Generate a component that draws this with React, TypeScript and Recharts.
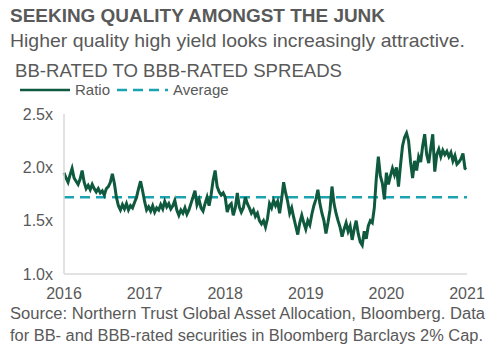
import React from 'react';
import { LineChart, Line, XAxis, YAxis, ReferenceLine } from 'recharts';

const yearStarts = [2016, 2017, 2018, 2019, 2020];
const ratio2016 = [1.95, 1.90, 1.86, 1.93, 1.99, 1.90, 1.87, 1.84, 1.89, 1.97, 1.86, 1.80, 1.83, 1.79, 1.84, 1.80, 1.77, 1.80, 1.76, 1.78, 1.74, 1.80, 1.82, 1.86, 1.94, 1.85, 1.72, 1.64, 1.60, 1.65, 1.61, 1.66, 1.60, 1.64, 1.62, 1.67, 1.72, 1.80, 1.87, 1.78];
const ratio2017 = [1.68, 1.60, 1.63, 1.59, 1.64, 1.58, 1.62, 1.60, 1.65, 1.61, 1.68, 1.63, 1.66, 1.61, 1.64, 1.69, 1.60, 1.55, 1.60, 1.57, 1.62, 1.56, 1.60, 1.66, 1.72, 1.78, 1.65, 1.70, 1.62, 1.59, 1.66, 1.72, 1.64, 1.74, 1.88, 1.97, 1.82, 1.77, 1.74, 1.76];
const ratio2018 = [1.72, 1.58, 1.64, 1.66, 1.55, 1.62, 1.76, 1.63, 1.58, 1.62, 1.72, 1.66, 1.62, 1.57, 1.60, 1.54, 1.57, 1.50, 1.47, 1.50, 1.44, 1.52, 1.66, 1.62, 1.69, 1.64, 1.68, 1.57, 1.70, 1.86, 1.76, 1.68, 1.57, 1.62, 1.53, 1.45, 1.37, 1.48, 1.55, 1.48];
const ratio2019 = [1.42, 1.50, 1.46, 1.56, 1.64, 1.70, 1.79, 1.66, 1.57, 1.50, 1.38, 1.48, 1.60, 1.82, 1.66, 1.57, 1.50, 1.44, 1.35, 1.42, 1.48, 1.40, 1.45, 1.32, 1.42, 1.50, 1.38, 1.30, 1.27, 1.40, 1.33, 1.45, 1.50, 1.48, 1.62, 1.90, 2.10, 1.92, 1.85, 1.70];
const ratio2020 = [1.95, 1.84, 1.92, 1.99, 1.93, 2.00, 1.82, 2.02, 2.20, 2.28, 2.32, 2.25, 2.05, 1.90, 2.06, 1.97, 2.10, 2.05, 2.20, 2.31, 2.12, 2.04, 2.18, 2.31, 1.96, 2.12, 2.17, 2.10, 2.16, 2.12, 2.15, 2.10, 2.14, 2.06, 2.11, 2.03, 2.05, 2.08, 2.13, 1.99];
const lastPoint = { t: 2020.99, ratio: 1.98 };
const averageRatio = 1.72;
const xTicks = [2016, 2017, 2018, 2019, 2020, 2021];
const yTicks = [1.0, 1.5, 2.0, 2.5];

const ratioYears = [ratio2016, ratio2017, ratio2018, ratio2019, ratio2020];
const data: { t: number; ratio: number }[] = [];
ratioYears.forEach((vals, yi) => {
  vals.forEach((v, i) => {
    data.push({ t: yearStarts[yi] + i / vals.length, ratio: v });
  });
});
data.push(lastPoint);

const GREEN = '#0f5a3e';
const TEAL = '#1ba3b3';
const TEXT = '#595959';
const FONT = '"Liberation Sans", Arial, sans-serif';

export default function App() {
  return (
    <div style={{ position: 'absolute', left: 0, top: 0, width: 500, height: 353, background: '#fff', fontFamily: FONT }}>
      <svg width={500} height={353} style={{ position: 'absolute', left: 0, top: 0 }}>
        <text x={10} y={22} fontSize={18.5} fontWeight="bold" fill={TEXT} fontFamily={FONT} textLength={375} lengthAdjust="spacingAndGlyphs">SEEKING QUALITY AMONGST THE JUNK</text>
        <text x={10} y={47} fontSize={19} fill={TEXT} fontFamily={FONT} textLength={455} lengthAdjust="spacingAndGlyphs">Higher quality high yield looks increasingly attractive.</text>
        <text x={15} y={77} fontSize={18} fill={TEXT} fontFamily={FONT} textLength={327} lengthAdjust="spacingAndGlyphs">BB-RATED TO BBB-RATED SPREADS</text>
        <line x1={20} y1={90} x2={70} y2={90} stroke={GREEN} strokeWidth={2.5} />
        <text x={75} y={95} fontSize={15} fill={TEXT} fontFamily={FONT}>Ratio</text>
        <line x1={117} y1={90} x2={168} y2={90} stroke={TEAL} strokeWidth={2.5} strokeDasharray="10 6" />
        <text x={173} y={95} fontSize={15} fill={TEXT} fontFamily={FONT}>Average</text>
        <text x={10} y={319} fontSize={16} fill={TEXT} fontFamily={FONT} textLength={475} lengthAdjust="spacingAndGlyphs">Source: Northern Trust Global Asset Allocation, Bloomberg. Data</text>
        <text x={10} y={341} fontSize={16} fill={TEXT} fontFamily={FONT} textLength={473} lengthAdjust="spacingAndGlyphs">for BB- and BBB-rated securities in Bloomberg Barclays 2% Cap.</text>
      </svg>
      <div style={{ position: 'absolute', left: 0, top: 0 }}>
        <LineChart width={500} height={353} data={data} margin={{ top: 114, right: 33, bottom: 59, left: 10 }}>
          <XAxis
            dataKey="t"
            type="number"
            domain={[2016, 2021]}
            ticks={xTicks}
            tickLine={false}
            tickSize={0}
            tickMargin={14}
            height={20}
            axisLine={{ stroke: '#d9d9d9', strokeWidth: 1.5 }}
            tick={{ fontSize: 16, fill: TEXT, fontFamily: FONT }}
            interval={0}
          />
          <YAxis
            type="number"
            domain={[1, 2.5]}
            ticks={yTicks}
            width={54}
            tickLine={false}
            tickSize={0}
            tickMargin={11}
            axisLine={{ stroke: '#d9d9d9', strokeWidth: 1.5 }}
            tick={{ fontSize: 16, fill: TEXT, fontFamily: FONT }}
            tickFormatter={(v: number) => v.toFixed(1) + 'x'}
            interval={0}
          />
          <ReferenceLine y={averageRatio} stroke={TEAL} strokeWidth={2.5} strokeDasharray="10 6" />
          <Line
            type="linear"
            dataKey="ratio"
            stroke={GREEN}
            strokeWidth={3}
            dot={false}
            isAnimationActive={false}
            name="Ratio"
          />
        </LineChart>
      </div>
    </div>
  );
}
